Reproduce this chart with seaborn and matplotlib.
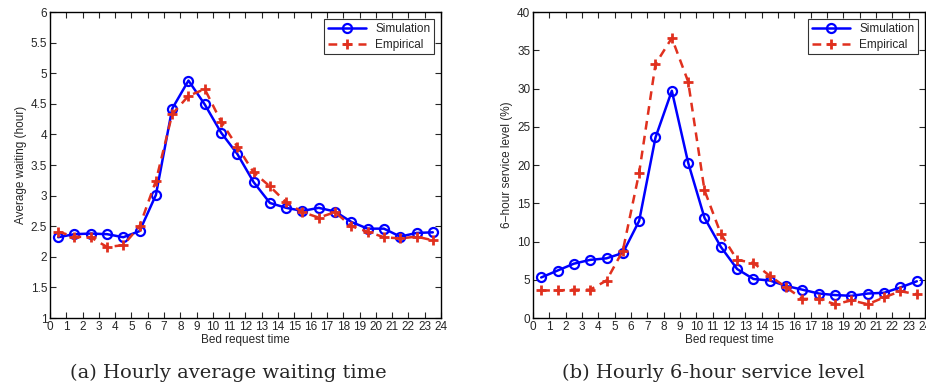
import matplotlib
matplotlib.use("Agg")
import matplotlib.pyplot as plt
import numpy as np
import pandas as pd
import seaborn as sns

hours = np.arange(24) + 0.5

wait_sim = [2.32, 2.37, 2.38, 2.37, 2.32, 2.42, 3.01, 4.42, 4.88, 4.49, 4.03, 3.68,
            3.22, 2.88, 2.80, 2.75, 2.80, 2.74, 2.57, 2.46, 2.46, 2.33, 2.39, 2.40]
wait_emp = [2.41, 2.33, 2.32, 2.16, 2.19, 2.50, 3.24, 4.33, 4.63, 4.74, 4.21, 3.80,
            3.38, 3.15, 2.89, 2.73, 2.64, 2.73, 2.50, 2.41, 2.32, 2.30, 2.33, 2.27]

svc_sim = [5.3, 6.2, 7.1, 7.6, 7.8, 8.5, 12.7, 23.6, 29.7, 20.3, 13.1, 9.3,
           6.4, 5.1, 4.9, 4.2, 3.7, 3.2, 3.0, 2.9, 3.2, 3.3, 4.0, 4.8]
svc_emp = [3.6, 3.6, 3.7, 3.7, 4.9, 8.8, 19.0, 33.2, 36.6, 30.9, 16.7, 11.0,
           7.6, 7.2, 5.5, 4.0, 2.5, 2.5, 1.8, 2.3, 1.8, 2.7, 3.5, 3.1]

sns.set_style("ticks")
plt.rcParams["font.family"] = ["Liberation Sans", "DejaVu Sans"]
plt.rcParams["xtick.direction"] = "in"
plt.rcParams["ytick.direction"] = "in"

blue = "#0000ff"
red = "#e0301e"

fig = plt.figure(figsize=(9.26, 3.9), dpi=100)
ax1 = fig.add_axes([0.054, 0.1846, 0.4222, 0.7846])
ax2 = fig.add_axes([0.5756, 0.1846, 0.4233, 0.7846])


def draw(ax, sim, emp, ylim, yticks, ylabel):
    df = pd.DataFrame({"hour": hours, "sim": sim, "emp": emp})
    sns.lineplot(data=df, x="hour", y="sim", ax=ax, color=blue, lw=1.8,
                 marker="o", markersize=6.5, markerfacecolor="none",
                 markeredgecolor=blue, markeredgewidth=1.6, label="Simulation")
    sns.lineplot(data=df, x="hour", y="emp", ax=ax, color=red, lw=1.8,
                 linestyle=(0, (3.5, 2.5)), marker="+", markersize=7,
                 markeredgecolor=red, markeredgewidth=2, label="Empirical")
    ax.set_xlim(0, 24)
    ax.set_ylim(*ylim)
    ax.set_xticks(range(25))
    ax.set_yticks(yticks)
    ax.set_yticklabels([("%g" % t) for t in yticks])
    ax.tick_params(axis="both", labelsize=8.5, length=4, width=0.8,
                   top=True, right=True, pad=2)
    ax.set_xlabel("Bed request time", fontsize=8.5, labelpad=1)
    ax.set_ylabel(ylabel, fontsize=8.5, labelpad=3)
    for s in ax.spines.values():
        s.set_linewidth(1.0)
        s.set_color("black")
    leg = ax.legend(loc="upper right", fontsize=8.5, frameon=True, fancybox=False,
                    borderaxespad=0.6, handlelength=3.2, borderpad=0.3,
                    labelspacing=0.35)
    leg.get_frame().set_edgecolor("black")
    leg.get_frame().set_linewidth(0.8)


draw(ax1, wait_sim, wait_emp, (1, 6), np.arange(1, 6.01, 0.5), "Average waiting (hour)")
draw(ax2, svc_sim, svc_emp, (0, 40), np.arange(0, 41, 5), "6\u2212hour service level (%)")

fig.text(0.247, 0.043, "(a) Hourly average waiting time", ha="center", va="center",
         fontsize=14, family="DejaVu Serif")
fig.text(0.77, 0.043, "(b) Hourly 6-hour service level", ha="center", va="center",
         fontsize=14, family="DejaVu Serif")

fig.savefig("out.png", dpi=100)
